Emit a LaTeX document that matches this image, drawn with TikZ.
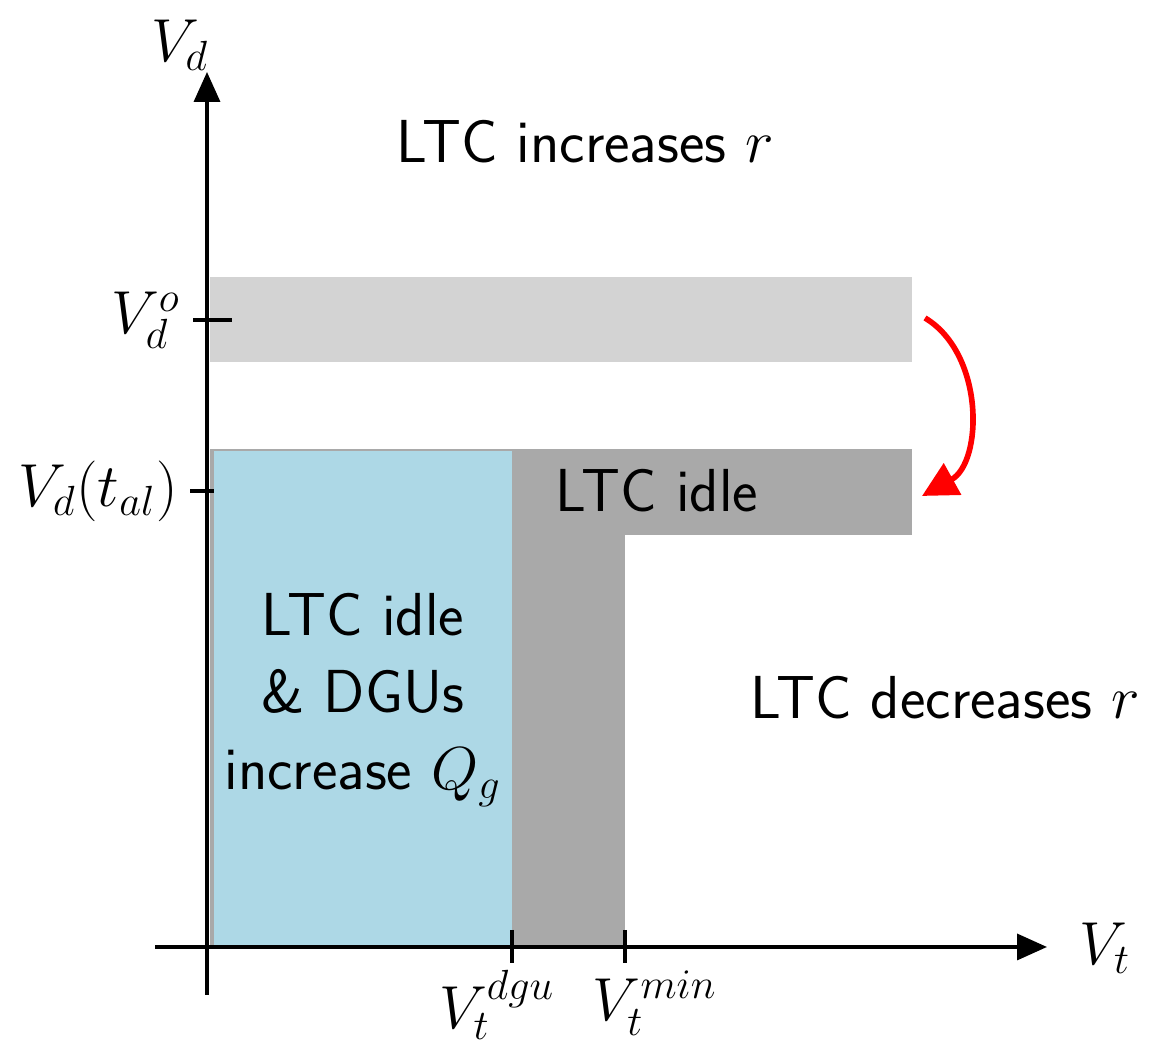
\documentclass[tikz,border=0pt]{standalone}
\usepackage{tikz}
\usetikzlibrary{arrows.meta}
\definecolor{bandlight}{HTML}{D3D3D3}
\definecolor{banddark}{HTML}{A9A9A9}
\definecolor{zoneblue}{HTML}{ADD8E6}
\tikzstyle{axis}=[line width=1pt, -{Triangle[length=3mm, width=2.6mm]}]
\tikzstyle{tick}=[line width=1pt]
\tikzstyle{label}=[font=\LARGE\sffamily, align=center]
\tikzstyle{mlabel}=[font=\LARGE]

\begin{document}
\begin{tikzpicture}
	\useasboundingbox (0,0) rectangle (11.51,10.46);
	% regions
	\fill[bandlight] (2.10,6.84) rectangle (9.12,7.69);
	\fill[banddark] (2.10,5.11) rectangle (9.12,5.97);
	\fill[banddark] (2.10,1.01) rectangle (6.25,5.97);
	% axes
	\coordinate (o) at (2.07,0.99);
	\coordinate (xstart) at (1.55,0.99);
	\coordinate (xend) at (10.47,0.99);
	\coordinate (ystart) at (2.07,0.51);
	\coordinate (yend) at (2.07,9.74);
	\draw[axis] (xstart) -- (xend);
	\draw[axis] (ystart) -- (yend);
	\node[mlabel] (vt) at (11.05,0.98) {$V_t$};
	\node[mlabel] (vd) at (1.80,10.01) {$V_d$};
	% ticks on V_d
	\coordinate (vdoL) at (1.93,7.26);
	\coordinate (vdoR) at (2.32,7.26);
	\coordinate (vdaL) at (1.90,5.55);
	\coordinate (vdaR) at (2.32,5.55);
	\draw[tick] (vdoL) -- (vdoR);
	\draw[tick] (vdaL) -- (vdaR);
	\node[mlabel, anchor=east] (vdo) at (vdoL) {$V_d^o$};
	\node[mlabel, anchor=east] (vda) at (vdaL) {$V_d(t_{al})$};
	% blue zone on top
	\fill[zoneblue] (2.14,1.01) rectangle (5.12,5.95);
	% ticks on V_t
	\coordinate (tdguT) at (5.12,1.16);
	\coordinate (tdguB) at (5.12,0.83);
	\coordinate (tminT) at (6.25,1.16);
	\coordinate (tminB) at (6.25,0.83);
	\draw[tick] (tdguT) -- (tdguB);
	\draw[tick] (tminT) -- (tminB);
	\node[mlabel, anchor=north] (vtdgu) at (4.97,0.88) {$V_t^{dgu}$};
	\node[mlabel, anchor=north] (vtmin) at (6.55,0.88) {$V_t^{min}$};
	% region texts
	\node[label] (inc) at (5.85,9.04) {LTC increases $r$};
	\node[label] (idle) at (6.57,5.55) {LTC idle};
	\node[label] (dgu) at (3.63,3.46) {LTC idle\\ \& DGUs\\ increase $Q_g$};
	\node[label] (dec) at (9.45,3.48) {LTC decreases $r$};
	% shift of the band
	\coordinate (shiftA) at (9.25,7.28);
	\coordinate (shiftB) at (9.22,5.50);
	\draw[red, ultra thick, -{Triangle[length=3.5mm, width=3.5mm]}] (shiftA) to[bend left=60] (shiftB);
\end{tikzpicture}
\end{document}
